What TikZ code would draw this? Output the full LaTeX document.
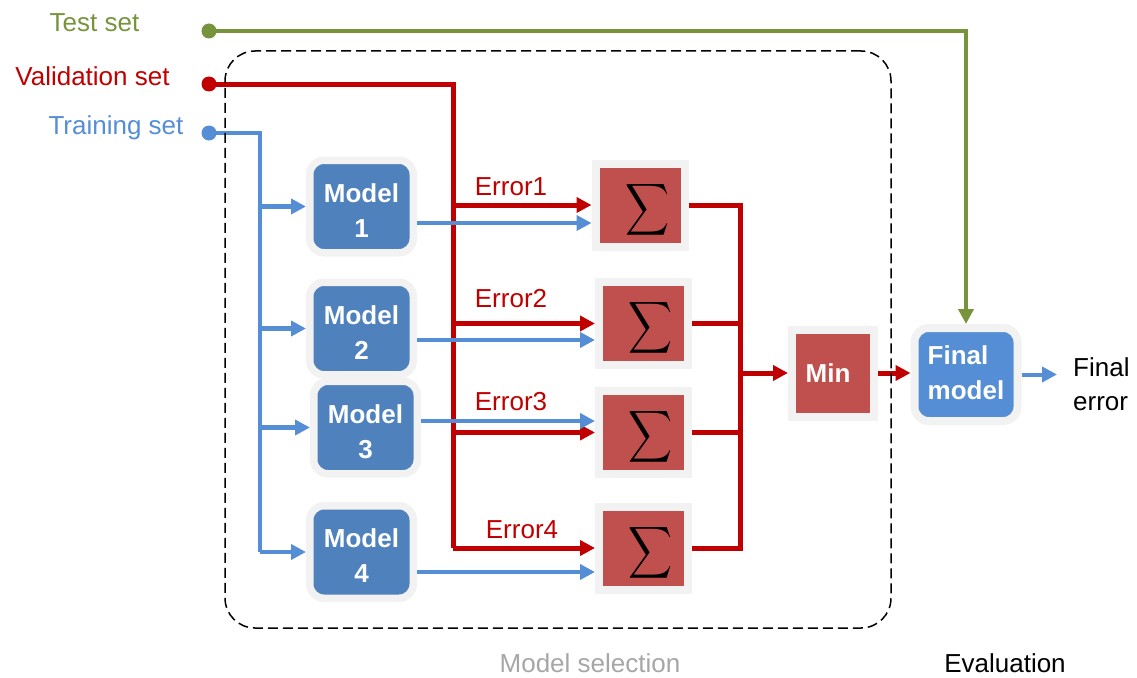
\documentclass[tikz,border=0pt]{standalone}
\usepackage{fontspec}
\setmainfont{Liberation Sans}
\usepackage{graphicx}
\usetikzlibrary{arrows.meta,calc}
\definecolor{cred}{HTML}{C00000}
\definecolor{sred}{HTML}{C0504D}
\definecolor{mblue}{HTML}{4F81BD}
\definecolor{lblue}{HTML}{558ED5}
\definecolor{cgreen}{HTML}{77933C}
\definecolor{boxgray}{HTML}{F2F2F2}
\definecolor{txtgray}{HTML}{A6A6A6}
\newcommand\mysigma{\resizebox*{44pt}{58pt}{$\displaystyle\sum$}}
\begin{document}
\begin{tikzpicture}[x=1pt,y=-1pt,
  lbl/.style={font=\fontsize{26}{30}\selectfont, anchor=base, inner sep=0pt},
  dot/.style={circle, fill=#1, inner sep=0pt, minimum size=15pt},
  modelbox/.style={fill=mblue, draw=boxgray, line width=7.5pt, rounded corners=14pt,
    minimum width=103.5pt, minimum height=92.5pt, inner sep=0pt},
  boxtext/.style={text=white, font=\bfseries\fontsize{26}{35}\selectfont, inner sep=0pt},
  sumbox/.style={fill=sred, draw=boxgray, line width=8pt,
    minimum width=89pt, minimum height=83pt, inner sep=0pt},
  sig/.style={inner sep=0pt},
  minbox/.style={fill=sred, draw=boxgray, line width=8pt,
    minimum width=82pt, minimum height=87pt, inner sep=0pt},
  finalbox/.style={fill=lblue, draw=boxgray, line width=8pt, rounded corners=14pt,
    minimum width=103pt, minimum height=93pt, inner sep=0pt},
  rline/.style={draw=cred, line width=5pt},
  bline/.style={draw=lblue, line width=4.5pt},
  gline/.style={draw=cgreen, line width=4.5pt},
  tip/.style={-{Triangle[length=15pt,width=15pt]}},
]
\useasboundingbox (0,0) rectangle (1137,677);

% labels
\node[lbl, text=cgreen] (tlab) at (94.5,32) {Test set};
\node[lbl, text=cred] (vlab) at (92.5,85) {Validation set};
\node[lbl, text=lblue] (trlab) at (116,134) {Training set};

% dots
\node[dot=cgreen] (tdot) at (209,31) {};
\node[dot=cred] (vdot) at (209,84) {};
\node[dot=lblue] (trdot) at (209,133) {};

% boxes
\node[modelbox] (m1) at (361.5,206.5) {};
\node[modelbox] (m2) at (361.5,328.5) {};
\node[modelbox] (m3) at (365.5,427.5) {};
\node[modelbox] (m4) at (361.5,552) {};
\node[boxtext, align=center] (m1t) at ([yshift=-4pt]m1.center) {Model\\1};
\node[boxtext, align=center] (m2t) at ([yshift=-4pt]m2.center) {Model\\2};
\node[boxtext, align=center] (m3t) at ([yshift=-4pt]m3.center) {Model\\3};
\node[boxtext, align=center] (m4t) at ([yshift=-4pt]m4.center) {Model\\4};

\node[sumbox] (s1) at (640,205) {};
\node[sumbox] (s2) at (643.5,323.5) {};
\node[sumbox] (s3) at (643.5,432.5) {};
\node[sumbox] (s4) at (643.5,548) {};
\node[sig] (s1g) at ([xshift=7pt,yshift=-4.5pt]s1.center) {\mysigma};
\node[sig] (s2g) at ([xshift=7pt,yshift=-4.5pt]s2.center) {\mysigma};
\node[sig] (s3g) at ([xshift=7pt,yshift=-4.5pt]s3.center) {\mysigma};
\node[sig] (s4g) at ([xshift=7pt,yshift=-4.5pt]s4.center) {\mysigma};

\node[minbox] (min) at (833,373) {};
\node[boxtext] (mint) at ([xshift=-5pt]min.center) {Min};
\node[finalbox] (final) at (966,374.5) {};
\node[boxtext, align=left] (finalt) at ([yshift=2pt]final.center) {Final\\model};

% coordinates
\coordinate (vbus) at (453,548);
\coordinate (tbus) at (260,552);
\coordinate (mbus) at (740,373);
\coordinate (fe) at (1057,374.5);

% test set
\draw[gline, tip] (tdot.center) -| (final.north);

% validation set
\draw[rline] (vdot.center) -| (vbus);
\draw[rline, tip] (vbus |- s1.west) -- (s1.west);
\draw[rline, tip] (vbus |- s2.west) -- (s2.west);
\draw[rline, tip] (vbus |- s3.west) -- (s3.west);
\draw[rline, tip] (vbus) -- (s4.west);

% training set
\draw[bline] (trdot.center) -| (tbus);
\draw[bline, tip] (tbus |- m1.west) -- (m1.west);
\draw[bline, tip] (tbus |- m2.west) -- (m2.west);
\draw[bline, tip] (tbus |- m3.west) -- (m3.west);
\draw[bline, tip] (tbus |- m4.west) -- (m4.west);

% model outputs
\coordinate (o1) at (m1.east |- 0,223);
\coordinate (o2) at (m2.east |- 0,340);
\coordinate (o3) at (m3.east |- 0,421);
\coordinate (o4) at (m4.east |- 0,572);
\draw[bline, line width=4pt, tip] (o1) -- (o1 -| s1.west);
\draw[bline, line width=4pt, tip] (o2) -- (o2 -| s2.west);
\draw[bline, line width=4pt, tip] (o3) -- (o3 -| s3.west);
\draw[bline, line width=4pt, tip] (o4) -- (o4 -| s4.west);

% error labels
\node[lbl, text=cred] (e1) at (511,195) {Error1};
\node[lbl, text=cred] (e2) at (511,307) {Error2};
\node[lbl, text=cred] (e3) at (511,410) {Error3};
\node[lbl, text=cred] (e4) at (522,538) {Error4};

% sums to min
\draw[rline] (s1.east) -| (mbus);
\draw[rline] (s2.east) -- (s2.east -| mbus) -- (s4.east -| mbus) -- (s4.east);
\draw[rline] (s3.east) -- (s3.east -| mbus);
\draw[rline, tip] (mbus) -- (min.west);
\draw[rline, tip] (min.east) -- (min.east -| final.west);

% final
\draw[bline, line width=4pt, tip] (final.east) -- (fe);
\node[font=\fontsize{26}{34}\selectfont, anchor=west, align=left, inner sep=0pt] (ferr) at (1073,384) {Final\\error};

% model selection region
\node[draw=black, dash pattern=on 10pt off 5pt, line width=1.5pt, rounded corners=30pt,
  minimum width=666pt, minimum height=577pt, inner sep=0pt] (sel) at (558,339.5) {};
\node[lbl, text=txtgray] (msel) at (590,672) {Model selection};
\node[lbl, text=black] (eval) at (1005,672) {Evaluation};
\end{tikzpicture}
\end{document}
